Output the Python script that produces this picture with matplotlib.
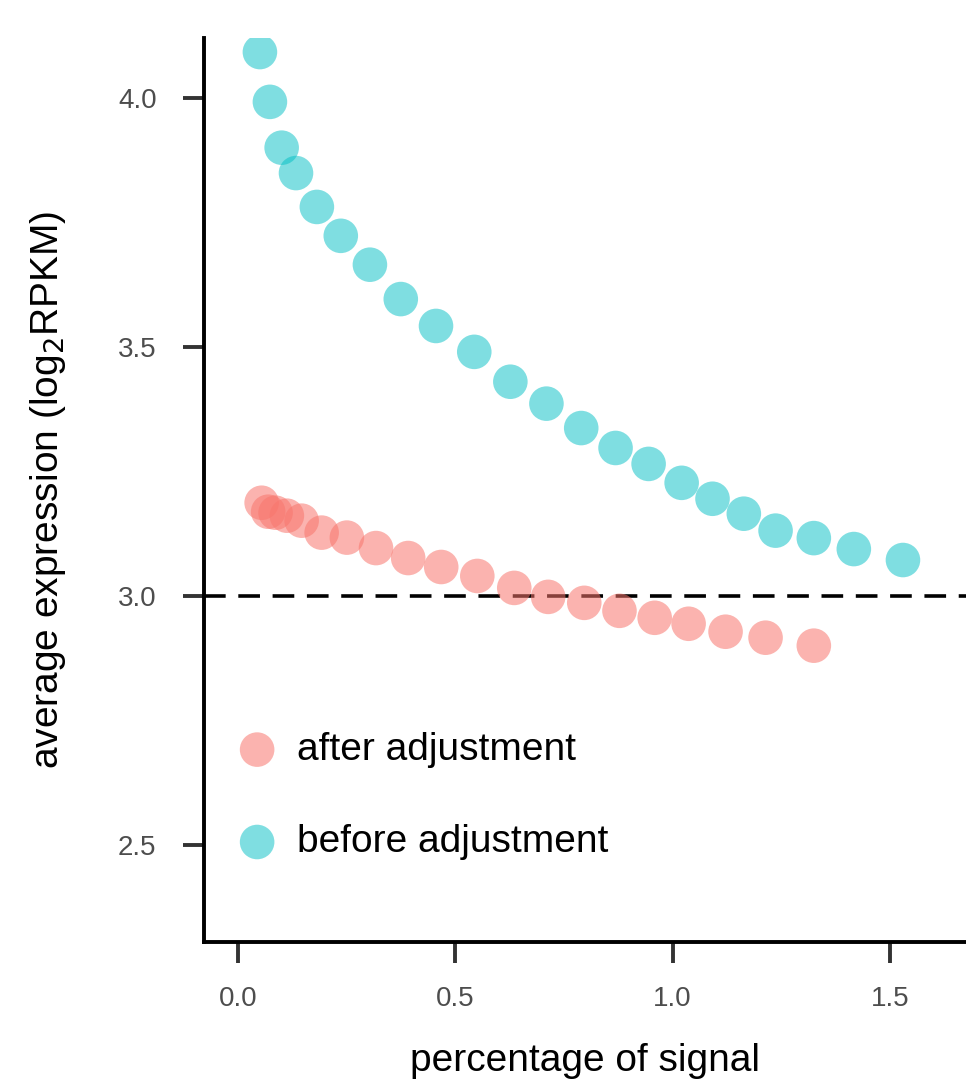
import matplotlib.pyplot as plt

plt.rcParams['font.family'] = ['Liberation Sans', 'DejaVu Sans']

before_x = [0.051, 0.074, 0.101, 0.134, 0.182, 0.237, 0.304, 0.375, 0.456, 0.544, 0.627,
            0.710, 0.790, 0.869, 0.945, 1.021, 1.092, 1.164, 1.237, 1.325, 1.417, 1.530]
before_y = [4.092, 3.992, 3.900, 3.849, 3.781, 3.723, 3.665, 3.596, 3.542, 3.490, 3.430,
            3.386, 3.337, 3.297, 3.265, 3.227, 3.195, 3.165, 3.131, 3.116, 3.094, 3.072]

after_x = [0.055, 0.070, 0.087, 0.113, 0.147, 0.193, 0.251, 0.318, 0.392, 0.468,
           0.551, 0.636, 0.714, 0.797, 0.878, 0.959, 1.037, 1.122, 1.214, 1.325]
after_y = [3.187, 3.169, 3.167, 3.161, 3.151, 3.127, 3.117, 3.096, 3.076, 3.058,
           3.040, 3.016, 2.998, 2.986, 2.970, 2.956, 2.944, 2.928, 2.916, 2.900]

fig = plt.figure(figsize=(9.66, 10.89), dpi=100)
ax = fig.add_axes([0.211, 0.135, 0.789, 0.830])

ax.scatter(after_x, after_y, s=620, color='#F8766D', alpha=0.55, edgecolors='none',
           label='after adjustment', zorder=3)
ax.scatter(before_x, before_y, s=620, color='#00BFC4', alpha=0.5, edgecolors='none',
           label='before adjustment', zorder=3)
ax.axhline(3.0, color='black', linestyle=(0, (6, 3.5)), linewidth=2.6, zorder=2)

ax.set_xlim(-0.078, 1.675)
ax.set_ylim(2.305, 4.12)
ax.set_xticks([0.0, 0.5, 1.0, 1.5])
ax.set_yticks([2.5, 3.0, 3.5, 4.0])
ax.set_xticklabels(['0.0', '0.5', '1.0', '1.5'])
ax.set_yticklabels(['2.5', '3.0', '3.5', '4.0'])

for side in ['top', 'right']:
    ax.spines[side].set_visible(False)
for side in ['left', 'bottom']:
    ax.spines[side].set_linewidth(2.8)
ax.tick_params(axis='both', direction='out', length=15, width=2.8, color='#333333',
               labelsize=20, labelcolor='#4d4d4d')
ax.tick_params(axis='y', pad=19)
ax.tick_params(axis='x', pad=17)

ax.set_xlabel('percentage of signal', fontsize=28, labelpad=22)
ax.set_ylabel('average expression (log$_2$RPKM)', fontsize=28, labelpad=36)

ax.legend(loc='center left', bbox_to_anchor=(0.024, 0.1615), borderaxespad=0,
          frameon=False, fontsize=28, handlelength=1.0, handletextpad=0.53,
          labelspacing=1.45)

fig.savefig('out.png', dpi=100)
